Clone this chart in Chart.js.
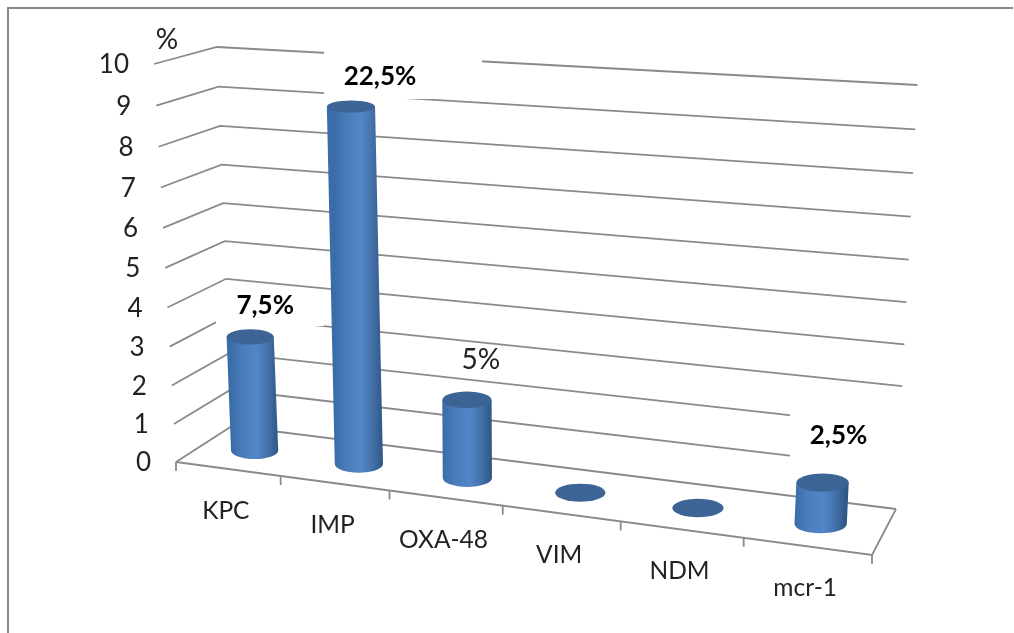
<!DOCTYPE html>
<html>
<head>
<meta charset="utf-8">
<style>
  html, body { margin: 0; padding: 0; background: #fff; }
  canvas { display: block; }
</style>
<script src="https://cdn.jsdelivr.net/npm/chart.js@4/dist/chart.umd.min.js"></script>
</head>
<body>
<canvas id="chart" width="1014" height="633"></canvas>
<script>
const categories = ['KPC', 'IMP', 'OXA-48', 'VIM', 'NDM', 'mcr-1'];
const percentValues = [7.5, 22.5, 5, 0, 0, 2.5];
const barLabels = ['7,5%', '22,5%', '5%', '', '', '2,5%'];
const boldLabels = [true, true, false, false, false, true];
const yTickLabels = ['0', '1', '2', '3', '4', '5', '6', '7', '8', '9', '10'];

// the axis counts 0..10 isolates, 2.5% per isolate
const Y_MAX = 25;
const Y_STEP = 2.5;

// corners of the 3D box on the canvas
const BOX = {
    frontBottomLeft: [176, 462], frontBottomRight: [872, 555],
    backBottomLeft: [232, 426], backBottomRight: [896, 509],
    frontTopLeft: [154, 64], frontTopRight: [898, 109],
    backTopLeft: [217, 47], backTopRight: [917.5, 85]
};
const PERSPECTIVE_X = 1.13;
const PERSPECTIVE_Y = 1.05;
const BAR_DEPTH = 0.5;

const GRID_COLOR = '#8a8a8a';
const TEXT_COLOR = '#222222';
const FONT = 'Lato, Carlito, sans-serif';

// white boxes behind the value labels, they cut the gridlines
const labelMasks = [
    [216, 290, 108, 36],
    [324, 50, 158, 49],
    [790, 405, 125, 68]
];
const labelOffsets = [[15, -31], [29, -30], [14, -40], [0, 0], [0, 0], [16, -47]];

function warp(t, k) {
    return t / (t + k * (1 - t));
}

function mix(a, b, t) {
    return [a[0] + (b[0] - a[0]) * t, a[1] + (b[1] - a[1]) * t];
}

// u along the categories, v up the value axis, d from front (0) to back (1)
function project(u, v, d) {
    const tu = warp(u, PERSPECTIVE_X);
    const tv = warp(v, PERSPECTIVE_Y);
    const bottom = mix(
        mix(BOX.frontBottomLeft, BOX.frontBottomRight, tu),
        mix(BOX.backBottomLeft, BOX.backBottomRight, tu), d);
    const top = mix(
        mix(BOX.frontTopLeft, BOX.frontTopRight, tu),
        mix(BOX.backTopLeft, BOX.backTopRight, tu), d);
    return mix(bottom, top, tv);
}

function toU(chart, x) {
    const a = chart.chartArea;
    return (x - a.left) / (a.right - a.left);
}

function toV(chart, y) {
    const a = chart.chartArea;
    return (a.bottom - y) / (a.bottom - a.top);
}

function polyline(ctx, points) {
    ctx.beginPath();
    points.forEach((p, i) => {
        if (i === 0) ctx.moveTo(p[0], p[1]);
        else ctx.lineTo(p[0], p[1]);
    });
    ctx.stroke();
}

function drawFrame(ctx) {
    ctx.strokeStyle = '#8a8a8a';
    ctx.lineWidth = 2;
    polyline(ctx, [[8, 633], [8, 8], [1013, 8]]);
}

function drawWalls(chart) {
    const ctx = chart.ctx;
    const yScale = chart.scales.y;
    const xScale = chart.scales.x;

    ctx.strokeStyle = GRID_COLOR;
    ctx.lineWidth = 1.8;
    yScale.ticks.forEach(tick => {
        const v = toV(chart, yScale.getPixelForValue(tick.value));
        polyline(ctx, [project(0, v, 0), project(0, v, 1), project(1, v, 1)]);
    });

    // floor edges and the tick marks on the front edge
    polyline(ctx, [project(0, 0, 0), project(1, 0, 0), project(1, 0, 1)]);
    const slot = xScale.width / categories.length;
    for (let i = 0; i <= categories.length; i++) {
        const p = project(toU(chart, xScale.left + slot * i), 0, 0);
        polyline(ctx, [p, [p[0], p[1] + 9]]);
    }

    ctx.fillStyle = '#ffffff';
    labelMasks.forEach(m => ctx.fillRect(m[0], m[1], m[2], m[3]));
}

function drawAxisText(chart) {
    const ctx = chart.ctx;
    const yScale = chart.scales.y;
    const xScale = chart.scales.x;

    ctx.fillStyle = TEXT_COLOR;
    ctx.textBaseline = 'middle';

    ctx.font = '26px ' + FONT;
    ctx.textAlign = 'right';
    yScale.ticks.forEach((tick, i) => {
        const v = toV(chart, yScale.getPixelForValue(tick.value));
        const p = project(0, v, 0);
        ctx.fillText(yTickLabels[i], p[0] - 25, p[1] + 1);
    });

    ctx.textAlign = 'center';
    ctx.font = '28px ' + FONT;
    ctx.fillText('%', 167, 40);

    ctx.font = '24.5px ' + FONT;
    categories.forEach((name, i) => {
        const p = project(toU(chart, xScale.getPixelForValue(i)), 0, 0);
        ctx.fillText(name, p[0] - 2, p[1] + 42);
    });
}

function drawCylinder(chart, bar) {
    const ctx = chart.ctx;
    const u = toU(chart, bar.x);
    const v = toV(chart, bar.y);

    const base = project(u, 0, BAR_DEPTH);
    const top = project(u, v, BAR_DEPTH);
    // nearer bars on the right are only a little wider
    const rx = bar.width / 2 * (0.6 + 0.08 * u);
    const baseRy = rx * 0.36;
    const topRy = rx * (0.36 - 0.12 * warp(v, PERSPECTIVE_Y));

    if (v > 0) {
        const side = ctx.createLinearGradient(base[0] - rx, 0, base[0] + rx, 0);
        side.addColorStop(0, '#3a6ca8');
        side.addColorStop(0.25, '#4a7dbb');
        side.addColorStop(0.55, '#5286c8');
        side.addColorStop(0.8, '#436fa6');
        side.addColorStop(1, '#2d5685');
        ctx.fillStyle = side;
        ctx.beginPath();
        ctx.moveTo(top[0] - rx, top[1]);
        ctx.lineTo(base[0] - rx, base[1]);
        ctx.ellipse(base[0], base[1], rx, baseRy, 0, Math.PI, 0, true);
        ctx.lineTo(top[0] + rx, top[1]);
        ctx.closePath();
        ctx.fill();
    }

    ctx.fillStyle = '#3c6595';
    ctx.beginPath();
    ctx.ellipse(top[0], top[1], rx, v > 0 ? topRy : baseRy, 0, 0, Math.PI * 2);
    ctx.fill();
}

function drawValueLabels(chart) {
    const ctx = chart.ctx;
    const bars = chart.getDatasetMeta(0).data;
    ctx.textAlign = 'center';
    ctx.textBaseline = 'middle';
    bars.forEach((bar, i) => {
        if (!barLabels[i]) return;
        const p = project(toU(chart, bar.x), toV(chart, bar.y), BAR_DEPTH);
        ctx.fillStyle = boldLabels[i] ? '#000000' : TEXT_COLOR;
        ctx.font = boldLabels[i] ? 'bold 26px ' + FONT : '28px ' + FONT;
        ctx.fillText(barLabels[i], p[0] + labelOffsets[i][0], p[1] + labelOffsets[i][1]);
    });
}

const perspectivePlugin = {
    id: 'perspective',
    beforeDatasetsDraw(chart) {
        drawFrame(chart.ctx);
        drawWalls(chart);
        drawAxisText(chart);
    },
    beforeDatasetDraw(chart, args) {
        args.meta.data.forEach(bar => drawCylinder(chart, bar));
        return false; // cylinders replace the flat bars
    },
    afterDatasetsDraw(chart) {
        drawValueLabels(chart);
    }
};

new Chart(document.getElementById('chart').getContext('2d'), {
    type: 'bar',
    data: {
        labels: categories,
        datasets: [{
            data: percentValues,
            backgroundColor: '#4f81bd',
            barPercentage: 1,
            categoryPercentage: 0.46
        }]
    },
    options: {
        responsive: false,
        animation: false,
        plugins: { legend: { display: false }, tooltip: { enabled: false } },
        scales: {
            x: { display: false, offset: true },
            y: { display: false, min: 0, max: Y_MAX, ticks: { stepSize: Y_STEP } }
        }
    },
    plugins: [perspectivePlugin]
});
</script>
</body>
</html>
